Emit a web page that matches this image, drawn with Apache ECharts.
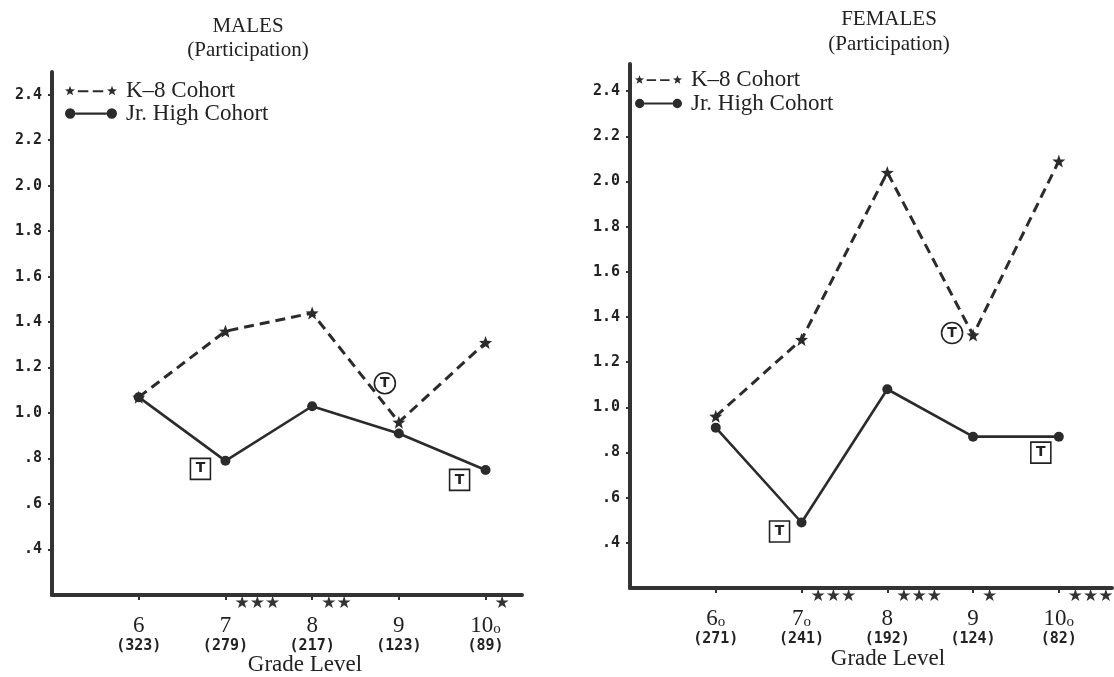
<!DOCTYPE html>
<html>
<head>
<meta charset="utf-8">
<title>Participation by Grade Level</title>
<script src="https://cdn.jsdelivr.net/npm/echarts@6.0.0/dist/echarts.min.js"></script>
<style>
  html, body { margin: 0; padding: 0; background: #fff; }
  #chart { width: 1114px; height: 677px; }
</style>
</head>
<body>
<div id="chart"></div>
<script>
// grade levels + y tick labels
var grades = [6, 7, 8, 9, 10];
var yTicks = [0.4, 0.6, 0.8, 1.0, 1.2, 1.4, 1.6, 1.8, 2.0, 2.2, 2.4];

// males
var maleK8 = [1.07, 1.36, 1.44, 0.96, 1.31];
var maleJr = [1.07, 0.79, 1.03, 0.91, 0.75];
var maleN = ['323', '279', '217', '123', '89'];
var maleStars = ['', '★★★', '★★', '', '★'];
var maleRing = [false, false, false, false, true];

// females
var femaleK8 = [0.96, 1.30, 2.04, 1.32, 2.09];
var femaleJr = [0.91, 0.49, 1.08, 0.87, 0.87];
var femaleN = ['271', '241', '192', '124', '82'];
var femaleStars = ['', '★★★', '★★★', '★', '★★★'];
var femaleRing = [true, true, false, false, true];

var INK = '#2b2b2b';
var SERIF = '"Liberation Serif", "DejaVu Serif", serif';
var MONO = '"DejaVu Sans Mono", "Liberation Mono", monospace';
var STAR = 'path://M6,0L7.47,3.98L11.71,4.15L8.38,6.77L9.53,10.85L6,8.5L2.47,10.85L3.62,6.77L0.29,4.15L4.53,3.98Z';
// legend icons: star - - star / dot --- dot
var K8_ICON = 'path://M6,0L7.47,3.98L11.71,4.15L8.38,6.77L9.53,10.85L6,8.5L2.47,10.85L3.62,6.77L0.29,4.15L4.53,3.98Z' +
    'M15,5h12v2.4h-12Z M32,5h12v2.4h-12Z' +
    'M54,0L55.47,3.98L59.71,4.15L56.38,6.77L57.53,10.85L54,8.5L50.47,10.85L51.62,6.77L48.29,4.15L52.53,3.98Z';
var JR_ICON = 'path://M0,6a6,6 0 1,0 12,0a6,6 0 1,0 -12,0Z M12,4.8h36v2.6h-36Z M48,6a6,6 0 1,0 12,0a6,6 0 1,0 -12,0Z';

var K8_NAME = 'K–8 Cohort';
var JR_NAME = 'Jr. High Cohort';

function tag(values, grade, shape, off) {
    return {
        coord: [grade, values[grades.indexOf(grade)]],
        symbol: shape === 'box' ? 'rect' : 'circle',
        symbolSize: shape === 'box' ? [20, 21] : 21,
        symbolOffset: off
    };
}

function tagStyle(list) {
    return {
        silent: true,
        itemStyle: { color: '#fff', borderColor: '#222', borderWidth: 1.6 },
        label: { show: true, position: 'inside', formatter: 'T', color: '#222', fontWeight: 'bold', fontSize: 14, fontFamily: 'DejaVu Sans' },
        data: list
    };
}

function pairs(values) {
    return grades.map(function (g, i) { return [g, values[i]]; });
}

function k8Series(values, idx, tags) {
    return {
        name: K8_NAME, type: 'line', xAxisIndex: idx * 2, yAxisIndex: idx,
        data: pairs(values),
        symbol: STAR, symbolSize: 13,
        lineStyle: { color: INK, width: 3, type: [10, 6] },
        itemStyle: { color: INK },
        markPoint: tagStyle(tags),
        z: 3
    };
}

function jrSeries(values, idx, tags) {
    return {
        name: JR_NAME, type: 'line', xAxisIndex: idx * 2, yAxisIndex: idx,
        data: pairs(values),
        symbol: 'circle', symbolSize: 10,
        lineStyle: { color: INK, width: 2.6 },
        itemStyle: { color: INK },
        markPoint: tagStyle(tags),
        z: 2
    };
}

function xMain(idx, max, counts, rings, pad, gap) {
    return {
        type: 'value', gridIndex: idx, position: 'bottom', min: 5, max: max, interval: 1,
        name: 'Grade Level', nameLocation: 'middle', nameGap: gap, nameMoveOverlap: false,
        nameTextStyle: { fontFamily: SERIF, fontSize: 23, color: '#222', padding: [0, 0, 0, pad] },
        axisLine: { lineStyle: { color: '#333', width: 4 } },
        axisTick: { customValues: grades, length: 5, lineStyle: { color: '#333', width: 2 } },
        splitLine: { show: false },
        axisLabel: {
            customValues: grades, margin: 20, color: '#222',
            formatter: function (v) {
                var i = grades.indexOf(v);
                if (i < 0) return '';
                return '{g|' + v + '}' + (rings[i] ? '{o|o}' : '') + '\n{n|(' + counts[i] + ')}';
            },
            rich: {
                g: { fontFamily: SERIF, fontSize: 23, lineHeight: 22, color: '#222' },
                o: { fontFamily: SERIF, fontSize: 15, lineHeight: 22, verticalAlign: 'bottom', color: '#222' },
                n: { fontFamily: MONO, fontSize: 15, fontWeight: 'bold', lineHeight: 18, color: '#222' }
            }
        }
    };
}

// second x axis on the same grid, only used for the significance stars
function xStars(idx, max, stars) {
    var vals = grades.filter(function (g, i) { return stars[i] !== ''; });
    return {
        type: 'value', gridIndex: idx, position: 'bottom', min: 5, max: max, interval: 1,
        axisLine: { show: false }, axisTick: { show: false }, splitLine: { show: false },
        axisLabel: {
            customValues: vals, margin: 0, align: 'left', padding: [0, 0, 0, 9],
            fontFamily: 'DejaVu Sans', fontSize: 17, color: '#333',
            formatter: function (v) {
                var i = grades.indexOf(v);
                return i < 0 ? '' : stars[i];
            }
        }
    };
}

function yAxis(idx, max) {
    return {
        type: 'value', gridIndex: idx, min: 0.2, max: max, interval: 0.2,
        axisLine: { show: true, lineStyle: { color: '#333', width: 4 } },
        axisTick: { show: true, customValues: yTicks, length: 4, lineStyle: { color: '#333', width: 2 } },
        splitLine: { show: false },
        axisLabel: {
            customValues: yTicks, margin: 10, color: '#222',
            fontFamily: MONO, fontSize: 15, fontWeight: 'bold',
            formatter: function (v) {
                return v < 1 ? '.' + Math.round(v * 10) : v.toFixed(1);
            }
        }
    };
}

function legend(left, top, w, gap) {
    return {
        orient: 'vertical', left: left, top: top, itemWidth: w, itemHeight: 12, itemGap: gap,
        selectedMode: false,
        textStyle: { fontFamily: SERIF, fontSize: 23, lineHeight: 20, color: '#222', padding: [0, 0, 0, 4] },
        data: [{ name: K8_NAME, icon: K8_ICON }, { name: JR_NAME, icon: JR_ICON }]
    };
}

var myChart = echarts.init(document.getElementById('chart'));
myChart.setOption({
    animation: false,
    backgroundColor: '#fff',
    title: [
        {
            text: '{a|MALES}\n{b|(Participation)}', left: 243, top: 9, textAlign: 'center',
            textStyle: { fontWeight: 'normal', rich: {
                a: { fontFamily: SERIF, fontSize: 21, fontWeight: 'normal', lineHeight: 24, color: '#222' },
                b: { fontFamily: SERIF, fontSize: 21, fontWeight: 'normal', lineHeight: 24, color: '#222' }
            } }
        },
        {
            text: '{a|FEMALES}\n{b|(Participation)}', left: 884, top: 2, textAlign: 'center',
            textStyle: { fontWeight: 'normal', rich: {
                a: { fontFamily: SERIF, fontSize: 21, fontWeight: 'normal', lineHeight: 25, color: '#222' },
                b: { fontFamily: SERIF, fontSize: 21, fontWeight: 'normal', lineHeight: 25, color: '#222' }
            } }
        }
    ],
    legend: [legend(60, 74, 52, 0), legend(630, 63, 47, 1)],
    grid: [
        { left: 52, top: 72, width: 470, height: 523, containLabel: false, outerBoundsMode: 'none' },
        { left: 630, top: 64, width: 482, height: 524, containLabel: false, outerBoundsMode: 'none' }
    ],
    xAxis: [
        xMain(0, 10.42, maleN, maleRing, 36, 58),
        xStars(0, 10.42, maleStars),
        xMain(1, 10.62, femaleN, femaleRing, 34, 59),
        xStars(1, 10.62, femaleStars)
    ],
    yAxis: [yAxis(0, 2.5), yAxis(1, 2.52)],
    series: [
        k8Series(maleK8, 0, [tag(maleK8, 9, 'ring', [-14, -39])]),
        jrSeries(maleJr, 0, [tag(maleJr, 7, 'box', [-25, 8]), tag(maleJr, 10, 'box', [-26, 10])]),
        k8Series(femaleK8, 1, [tag(femaleK8, 9, 'ring', [-21, -2])]),
        jrSeries(femaleJr, 1, [tag(femaleJr, 7, 'box', [-22, 9]), tag(femaleJr, 10, 'box', [-18, 16])])
    ]
});
</script>
</body>
</html>
